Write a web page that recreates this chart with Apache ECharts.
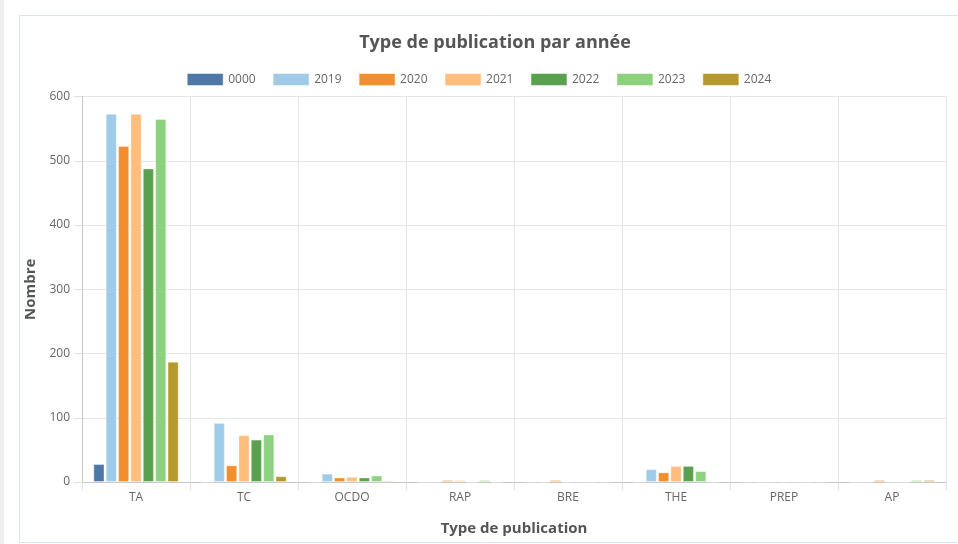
<!DOCTYPE html>
<html>
<head>
<meta charset="utf-8">
<script src="https://cdn.jsdelivr.net/npm/echarts@6/dist/echarts.min.js"></script>
<style>
html,body{margin:0;padding:0;background:#fff;}
#c{width:958px;height:544px;}
</style>
</head>
<body>
<div id="c"></div>
<script>
const categories = ['TA','TC','OCDO','RAP','BRE','THE','PREP','AP'];
const seriesNames = ['0000','2019','2020','2021','2022','2023','2024'];
const colors = ['#4e79a7','#a0cbe8','#f28e2b','#ffbe7d','#59a14f','#8cd17d','#b6992d'];
const v0000 = [28, 0, 0, 0, 0, 0, 0, 0];
const v2019 = [573, 92, 13, 0, 0, 20, 0, 0];
const v2020 = [523, 26, 7, 3, 3, 15, 0, 3];
const v2021 = [573, 73, 8, 3, 0, 25, 0, 0];
const v2022 = [488, 66, 7, 0, 0, 25, 0, 0];
const v2023 = [565, 74, 10, 3, 0, 17, 0, 3];
const v2024 = [187, 9, 2, 0, 0, 0, 0, 3];
const yTicks = [0, 100, 200, 300, 400, 500, 600];
const allValues = [v0000, v2019, v2020, v2021, v2022, v2023, v2024];

const chart = echarts.init(document.getElementById('c'), null, {renderer:'canvas'});
const font = '"Open Sans", "Noto Sans", sans-serif';
chart.setOption({
  animation: false,
  textStyle: {fontFamily: font},
  graphic: [{
    type: 'rect', left: 19, top: 15, z: -10,
    shape: {width: 960, height: 527},
    style: {fill: '#fff', stroke: '#dde3ea', lineWidth: 1}
  }, {
    type: 'rect', left: 0, top: 0, z: -11,
    shape: {width: 4, height: 544},
    style: {fill: '#efefef'}
  }],
  title: {
    text: 'Type de publication par année',
    left: 490, top: 29, textAlign: 'center',
    textStyle: {fontSize: 18, fontWeight: 'bold', color: '#555', fontFamily: font}
  },
  legend: {
    top: 68, left: 'center',
    icon: 'rect',
    itemWidth: 36, itemHeight: 12, itemGap: 17,
    textStyle: {fontSize: 12, color: '#666', fontFamily: font},
    data: seriesNames.map((n, i) => ({name: n, itemStyle: {color: colors[i], borderColor: 'rgba(255,255,255,0.5)', borderWidth: 1}}))
  },
  grid: {left: 82, right: 12, top: 96.5, bottom: 62, containLabel: false, outerBoundsMode: 'none'},
  xAxis: {
    type: 'category', data: categories,
    name: 'Type de publication', nameLocation: 'middle', nameGap: 39,
    nameTextStyle: {fontSize: 15, fontWeight: 'bold', color: '#555', fontFamily: font},
    axisLine: {lineStyle: {color: '#c8c8c8'}},
    axisTick: {show: true, length: 8, lineStyle: {color: '#e2e2e2'}},
    axisLabel: {fontSize: 12, color: '#666', margin: 10, fontFamily: font},
    splitLine: {show: true, lineStyle: {color: '#e6e6e6'}}
  },
  yAxis: {
    type: 'value', min: 0, max: 600, interval: 100,
    name: 'Nombre', nameLocation: 'middle', nameGap: 34,
    nameTextStyle: {fontSize: 15, fontWeight: 'bold', color: '#555', fontFamily: font},
    axisLine: {show: true, lineStyle: {color: '#c8c8c8'}},
    axisTick: {show: true, length: 8, lineStyle: {color: '#e2e2e2'}},
    axisLabel: {fontSize: 12, color: '#666', margin: 12, fontFamily: font,
      formatter: v => yTicks.includes(v) ? String(v) : ''},
    splitLine: {show: true, lineStyle: {color: '#e6e6e6'}}
  },
  series: seriesNames.map((n, i) => ({
    name: n, type: 'bar', data: allValues[i],
    barGap: '11%', barCategoryGap: '21%',
    itemStyle: {color: colors[i], borderColor: 'rgba(255,255,255,0.35)', borderWidth: 1}
  }))
});
</script>
</body>
</html>
